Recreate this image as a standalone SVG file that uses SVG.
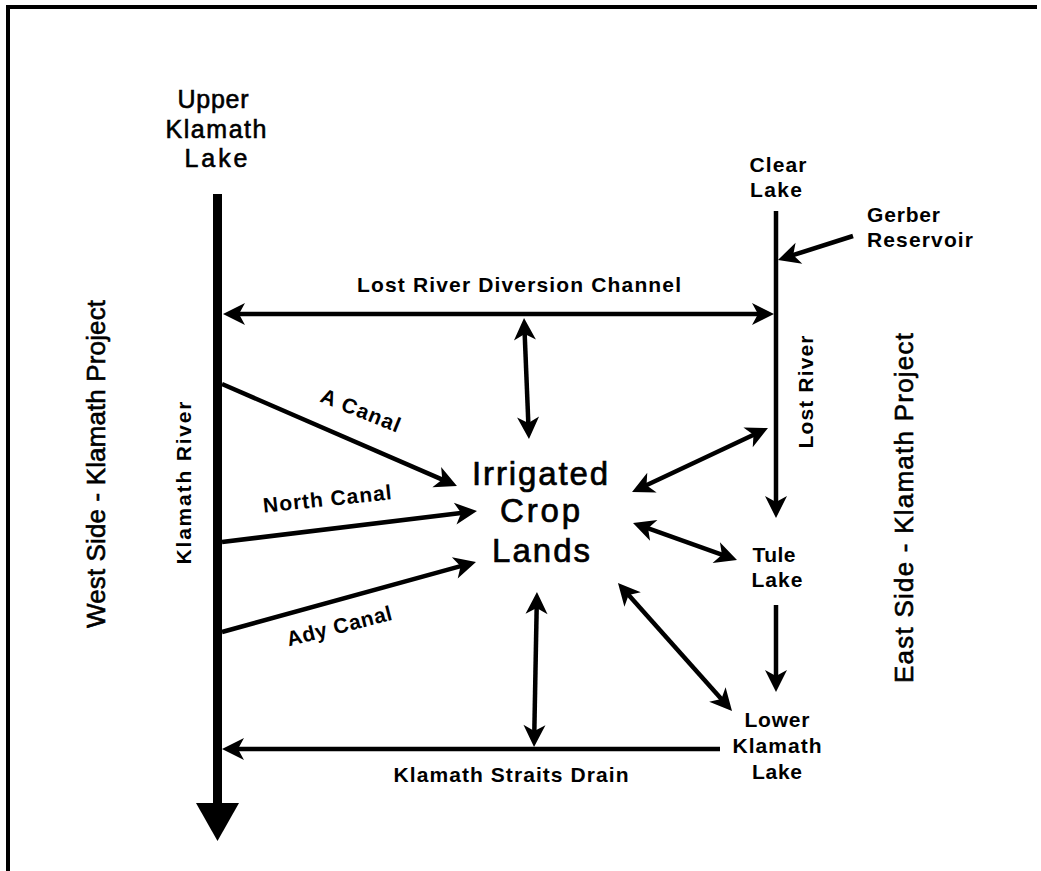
<svg xmlns="http://www.w3.org/2000/svg" width="1041" height="871" viewBox="0 0 1041 871">
<style>
.reg{font-family:"Liberation Sans",Arial,sans-serif;font-size:25px;fill:#000;stroke:#000;stroke-width:0.6}
.big{font-family:"Liberation Sans",Arial,sans-serif;font-size:33px;fill:#000;stroke:#000;stroke-width:0.7}
.lbl{font-family:"Liberation Sans",Arial,sans-serif;font-size:21px;font-weight:bold;fill:#000}
.c{text-anchor:middle}
.ln{stroke:#000;stroke-width:4.5;fill:none}
</style>
<defs>
<marker id="ah" markerUnits="userSpaceOnUse" markerWidth="26" markerHeight="26" viewBox="-24 -13 26 26" refX="-14" refY="0" orient="auto-start-reverse">
<path d="M0,0 L-22,-11 L-16,0 L-22,11 Z" fill="#000"/>
</marker>
</defs>
<rect width="1041" height="871" fill="#fff"/>
<path d="M8,871 V7 H1037" stroke="#000" stroke-width="4" fill="none"/>

<g id="klamath-river-main">
<line x1="217.5" y1="194" x2="217.5" y2="806" stroke="#000" stroke-width="9"/>
<polygon points="196,803 239,803 217.5,841" fill="#000"/>
</g>

<g id="connectors">
<line class="ln" x1="237" y1="314" x2="760" y2="314" marker-start="url(#ah)" marker-end="url(#ah)"/>
<line class="ln" x1="524.6" y1="332" x2="528.4" y2="425" marker-start="url(#ah)" marker-end="url(#ah)"/>
<line class="ln" x1="222" y1="384" x2="444.1" y2="480.4" marker-end="url(#ah)"/>
<line class="ln" x1="222" y1="542" x2="463.1" y2="512.7" marker-end="url(#ah)"/>
<line class="ln" x1="222" y1="632" x2="462.5" y2="565.7" marker-end="url(#ah)"/>
<line class="ln" x1="644.7" y1="486" x2="755.3" y2="434" marker-start="url(#ah)" marker-end="url(#ah)"/>
<line class="ln" x1="646.2" y1="527.7" x2="723.8" y2="555.3" marker-start="url(#ah)" marker-end="url(#ah)"/>
<line class="ln" x1="627.3" y1="593.5" x2="722.7" y2="700.5" marker-start="url(#ah)" marker-end="url(#ah)"/>
<line class="ln" x1="536.7" y1="606" x2="534.3" y2="733" marker-start="url(#ah)" marker-end="url(#ah)"/>
<line class="ln" x1="776" y1="211" x2="776" y2="504" marker-end="url(#ah)"/>
<line class="ln" x1="776" y1="605" x2="776" y2="678" marker-end="url(#ah)"/>
<line class="ln" x1="853" y1="236" x2="791.3" y2="255.7" marker-end="url(#ah)"/>
<line class="ln" x1="720" y1="749" x2="236" y2="749" marker-end="url(#ah)"/>
</g>

<g id="upper-klamath-lake">
<text class="reg c" x="213" y="108" textLength="71" lengthAdjust="spacing">Upper</text>
<text class="reg c" x="216" y="138" textLength="101" lengthAdjust="spacing">Klamath</text>
<text class="reg c" x="216" y="167" textLength="63" lengthAdjust="spacing">Lake</text>
</g>

<g id="irrigated-crop-lands">
<text class="big c" x="540" y="485" textLength="136" lengthAdjust="spacing">Irrigated</text>
<text class="big c" x="540" y="522" textLength="80" lengthAdjust="spacing">Crop</text>
<text class="big c" x="541" y="562" textLength="98" lengthAdjust="spacing">Lands</text>
</g>

<g id="clear-lake">
<text class="lbl c" x="778" y="172" textLength="57" lengthAdjust="spacing">Clear</text>
<text class="lbl c" x="776" y="197" textLength="52" lengthAdjust="spacing">Lake</text>
</g>

<g id="gerber-reservoir">
<text class="lbl" x="867" y="222" textLength="73" lengthAdjust="spacing">Gerber</text>
<text class="lbl" x="867" y="247" textLength="106" lengthAdjust="spacing">Reservoir</text>
</g>

<g id="tule-lake">
<text class="lbl c" x="774" y="562" textLength="43" lengthAdjust="spacing">Tule</text>
<text class="lbl c" x="777" y="587" textLength="51" lengthAdjust="spacing">Lake</text>
</g>

<g id="lower-klamath-lake">
<text class="lbl c" x="777" y="727" textLength="65" lengthAdjust="spacing">Lower</text>
<text class="lbl c" x="777" y="753" textLength="89" lengthAdjust="spacing">Klamath</text>
<text class="lbl c" x="777" y="779" textLength="50" lengthAdjust="spacing">Lake</text>
</g>

<g id="labels">
<text class="lbl c" x="519" y="292" textLength="324" lengthAdjust="spacing">Lost River Diversion Channel</text>
<text class="lbl c" x="511" y="782" textLength="235" lengthAdjust="spacing">Klamath Straits Drain</text>
<text class="lbl c" transform="translate(191,483) rotate(-90)" textLength="163" lengthAdjust="spacing">Klamath River</text>
<text class="lbl c" transform="translate(813,392) rotate(-90)" textLength="113" lengthAdjust="spacing">Lost River</text>
<text class="lbl c" transform="translate(358,417) rotate(22)" textLength="84" lengthAdjust="spacing">A Canal</text>
<text class="lbl c" transform="translate(328,506) rotate(-6)" textLength="129" lengthAdjust="spacing">North Canal</text>
<text class="lbl c" transform="translate(341,633) rotate(-14.5)" textLength="108" lengthAdjust="spacing">Ady Canal</text>
</g>

<g id="west-side">
<text class="reg c" style="font-size:26px" transform="translate(105,464) rotate(-90)" textLength="328" lengthAdjust="spacing">West Side - Klamath Project</text>
</g>
<g id="east-side">
<text class="reg c" style="font-size:26px" transform="translate(913,508) rotate(-90)" textLength="350" lengthAdjust="spacing">East Side - Klamath Project</text>
</g>
</svg>
